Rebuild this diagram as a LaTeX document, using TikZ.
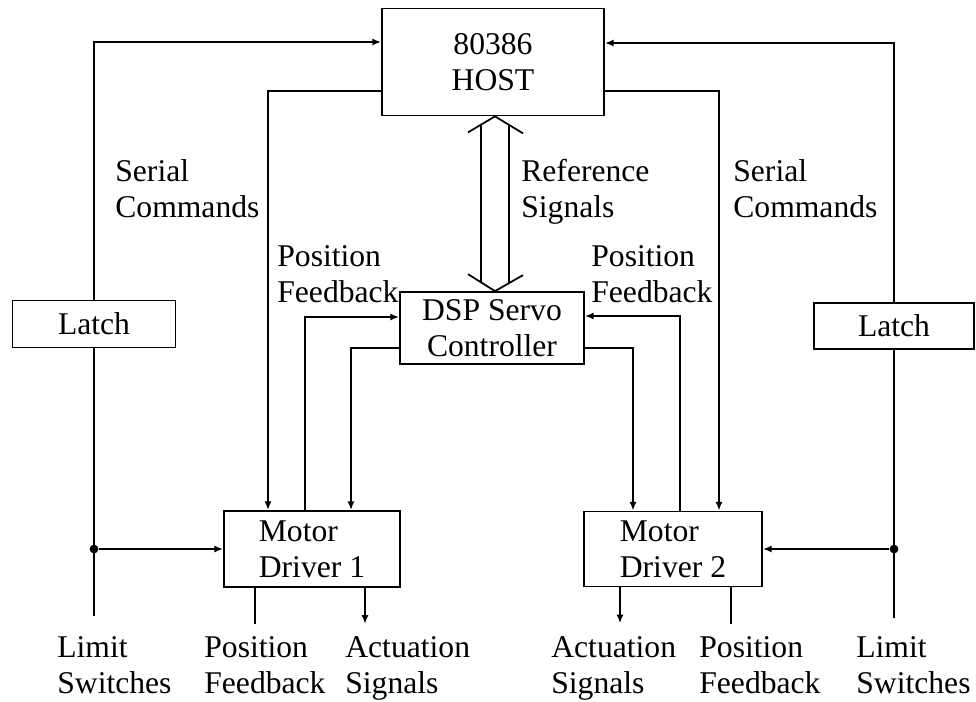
\documentclass[tikz,border=0pt]{standalone}
\usepackage{fontspec}
\setmainfont{Liberation Serif}
\usetikzlibrary{arrows.meta, calc}

\begin{document}
\begin{tikzpicture}[
    x=0.02cm, y=-0.02cm,
    font=\fontsize{18}{20.5}\selectfont,
    block/.style = {rectangle, draw, line width=1pt, align=center, inner sep=2pt},
    lbl/.style   = {align=left, anchor=west, inner sep=0pt},
    line/.style  = {line width=1pt},
    arr/.style   = {line, -{Latex[length=5pt, width=4pt]}},
    dot/.style   = {circle, fill, inner sep=0pt, minimum size=5pt}
]
\useasboundingbox (0,0) rectangle (976,701);
% blocks
\node[block, minimum width=4.44cm, minimum height=2.14cm] (host) at (493,62) {80386\\HOST};
\node[block, minimum width=3.68cm, minimum height=1.44cm] (dsp) at (492,328) {DSP Servo\\Controller};
\node[block, minimum width=3.26cm, minimum height=0.94cm] (latch1) at (94,324) {Latch};
\node[block, minimum width=3.2cm, minimum height=0.92cm] (latch2) at (894,326) {Latch};
\node[block, align=left, minimum width=3.52cm, minimum height=1.52cm] (mot1) at (312,549) {Motor\\Driver 1};
\node[block, align=left, minimum width=3.56cm, minimum height=1.5cm] (mot2) at (673,549) {Motor\\Driver 2};
% labels
\node[lbl] (ser1) at (115,189) {Serial\\Commands};
\node[lbl] (pos1) at (277,274) {Position\\Feedback};
\node[lbl] (ref)  at (521,192) {Reference\\Signals};
\node[lbl] (ser2) at (733,189) {Serial\\Commands};
\node[lbl] (pos2) at (591,274) {Position\\Feedback};
\node[lbl] (lim1txt) at (57,665)  {Limit\\Switches};
\node[lbl] (pf1txt)  at (204,665) {Position\\Feedback};
\node[lbl] (act1txt) at (345,668) {Actuation\\Signals};
\node[lbl] (act2txt) at (551,668) {Actuation\\Signals};
\node[lbl] (pf2txt)  at (699,665) {Position\\Feedback};
\node[lbl] (lim2txt) at (856,665) {Limit\\Switches};
% free ends
\coordinate (lim1) at ($(latch1.south)+(0,268)$);
\coordinate (lim2) at ($(latch2.south)+(0,268)$);
\coordinate (pf1)  at ($(mot1.south)+(-57,36)$);
\coordinate (act1) at ($(mot1.south)+(53,36)$);
\coordinate (act2) at ($(mot2.south)+(-53,36)$);
\coordinate (pf2)  at ($(mot2.south)+(58,37)$);
% host links
\draw[arr] (latch1.north) |- ($(host.west)+(0,-20)$);
\draw[arr] ($(host.west)+(0,29)$) -| ($(mot1.north)+(-44,0)$);
\draw[arr] (latch2.north) |- ($(host.east)+(0,-19)$);
\draw[arr] ($(host.east)+(0,29)$) -| ($(mot2.north)+(46,0)$);
% servo loops
\draw[arr] ($(mot1.north)+(-7,0)$) |- ($(dsp.west)+(0,-11)$);
\draw[arr] ($(dsp.west)+(0,20)$) -| ($(mot1.north)+(39,0)$);
\draw[arr] ($(mot2.north)+(7,0)$) |- ($(dsp.east)+(0,-12)$);
\draw[arr] ($(dsp.east)+(0,20)$) -| ($(mot2.north)+(-40,0)$);
% reference bus
\coordinate (hs) at ($(host.south)+(2,0)$);
\coordinate (ds) at (hs |- dsp.north);
\draw[line] ($(hs)+(-27,16)$) -- (hs) -- ($(hs)+(28,17)$);
\draw[line] ($(ds)+(-27,-17)$) -- (ds) -- ($(ds)+(28,-16)$);
\draw[line] ($(hs)+(-14,8)$) -- ($(ds)+(-14,-8)$);
\draw[line] ($(hs)+(14,8)$) -- ($(ds)+(14,-8)$);
% limit switches
\draw[line] (latch1.south) -- (lim1);
\node[dot] (j1) at (latch1.south |- mot1.west) {};
\draw[arr] (j1) -- (mot1.west);
\draw[line] (latch2.south) -- (lim2);
\node[dot] (j2) at (latch2.south |- mot2.east) {};
\draw[arr] (j2) -- (mot2.east);
% outputs
\draw[line] ($(mot1.south)+(-57,0)$) -- (pf1);
\draw[arr]  ($(mot1.south)+(53,0)$) -- (act1);
\draw[arr]  ($(mot2.south)+(-53,0)$) -- (act2);
\draw[line] ($(mot2.south)+(58,0)$) -- (pf2);
\end{tikzpicture}
\end{document}
